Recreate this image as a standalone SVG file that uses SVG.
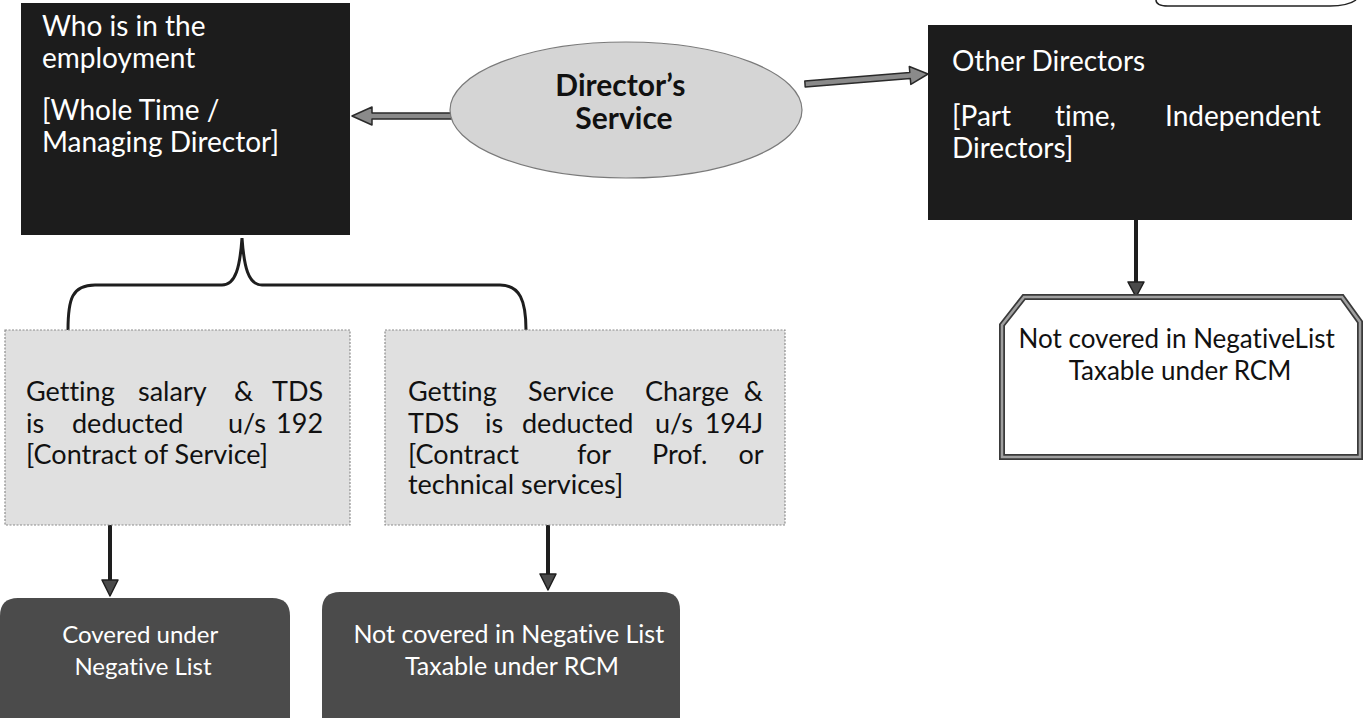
<svg xmlns="http://www.w3.org/2000/svg" width="1363" height="718" viewBox="0 0 1363 718">
  <defs>
    <style>
      text { font-variant-ligatures: none; }
      .dark { fill: #1c1c1c; }
      .light { fill: #e0e0e0; stroke: #8c8c8c; stroke-width: 1.2; stroke-dasharray: 2 1.5; }
      .slate { fill: #4b4b4b; }
      .wt { font-family: Lato, "Liberation Sans", sans-serif; fill: #ffffff; }
      .bk { font-family: Lato, "Liberation Sans", sans-serif; fill: #111111; }
      .big { font-size: 28px; }
      .mid { font-size: 27px; }
      .sm { font-size: 24px; }
      .ttl { font-size: 30px; font-weight: bold; }
      .wire { stroke: #1e1e1e; stroke-width: 4; fill: none; }
      .head { fill: #4a4a4a; stroke: #1e1e1e; stroke-width: 1.5; stroke-linejoin: round; }
      .block { fill: #8a8a8a; stroke: #2a2a2a; stroke-width: 1.5; stroke-linejoin: round; }
    </style>
  </defs>

  <rect width="1363" height="718" fill="#ffffff"/>

  <!-- partly visible rounded box at the top right -->
  <path d="M1156,0 C1156,4 1160,6 1168,6 L1330,6 C1345,6 1352,3 1356,0" fill="none" stroke="#222" stroke-width="1.5"/>

  <!-- connectors -->
  <g id="connectors">
    <polygon class="block" points="452,113 372,113 372,107 352,116 372,125 372,119 452,119"/>
    <polygon class="block" points="804.8,81.0 909.8,72.5 909.3,66.5 928,74 910.8,84.4 910.3,78.5 805.2,87.0"/>
    <path d="M68,330 C68,299 72,285 95,285 L222,285 C236,285 240,266 242,238 C244,266 248,285 262,285 L500,285 C520,285 526,301 526,330" fill="none" stroke="#1e1e1e" stroke-width="3"/>
    <line class="wire" x1="1136" y1="220" x2="1136" y2="284"/>
    <polygon class="head" points="1128,282 1144,282 1136,297"/>
    <line class="wire" x1="110" y1="525" x2="110" y2="582"/>
    <polygon class="head" points="102,580 118,580 110,596"/>
    <line class="wire" x1="548" y1="525" x2="548" y2="576"/>
    <polygon class="head" points="540,574 556,574 548,590"/>
  </g>

  <g id="employed">
    <rect class="dark" x="21" y="3" width="329" height="232"/>
    <text class="wt big">
      <tspan x="42" y="36">Who is in the</tspan>
      <tspan x="42" y="68">employment</tspan>
      <tspan x="42" y="120">[Whole Time /</tspan>
      <tspan x="42" y="152">Managing Director]</tspan>
    </text>
  </g>

  <g id="service">
    <ellipse cx="626" cy="110" rx="176" ry="68" fill="#d5d5d5" stroke="#7a7a7a" stroke-width="1.2"/>
    <text class="bk ttl" text-anchor="middle">
      <tspan x="624" y="96">Director’s</tspan>
      <tspan x="624" y="129">Service</tspan>
    </text>
  </g>

  <g id="other">
    <rect class="dark" x="928" y="25" width="424" height="195"/>
    <text class="wt big">
      <tspan x="952" y="71">Other Directors</tspan>
      <tspan x="952" y="126">[Part</tspan>
      <tspan x="1089" y="126" text-anchor="middle">time,</tspan>
      <tspan x="1328" y="126" text-anchor="end">Independent</tspan>
      <tspan x="952" y="158">Directors]</tspan>
    </text>
  </g>

  <g id="other-result">
    <path d="M1002,325 L1024,297 L1342,297 L1360,322 L1360,457 L1002,457 Z" fill="#ffffff" stroke="#3a3a3a" stroke-width="6" stroke-linejoin="miter"/>
    <path d="M1002,325 L1024,297 L1342,297 L1360,322 L1360,457 L1002,457 Z" fill="none" stroke="#a0a0a0" stroke-width="2.5"/>
    <text class="bk" style="font-size:26px" text-anchor="middle">
      <tspan x="1180" y="348">Not covered in NegativeList</tspan>
      <tspan x="1180" y="380">Taxable under RCM</tspan>
    </text>
  </g>

  <g id="salary">
    <rect class="light" x="5" y="330" width="345" height="195"/>
    <text class="bk mid">
      <tspan x="26" y="401">Getting</tspan><tspan x="138" y="401">salary</tspan><tspan x="234" y="401">&amp;</tspan><tspan x="330" y="401" text-anchor="end">TDS</tspan>
      <tspan x="26" y="433">is</tspan><tspan x="72" y="433">deducted</tspan><tspan x="228" y="433">u/s</tspan><tspan x="330" y="433" text-anchor="end">192</tspan>
      <tspan x="26" y="464">[Contract of Service]</tspan>
    </text>
  </g>

  <g id="fees">
    <rect class="light" x="385" y="330" width="400" height="195"/>
    <text class="bk mid">
      <tspan x="408" y="401">Getting</tspan><tspan x="528" y="401">Service</tspan><tspan x="645" y="401">Charge</tspan><tspan x="770" y="401" text-anchor="end">&amp;</tspan>
      <tspan x="408" y="433">TDS</tspan><tspan x="485" y="433">is</tspan><tspan x="522" y="433">deducted</tspan><tspan x="655" y="433">u/s</tspan><tspan x="770" y="433" text-anchor="end">194J</tspan>
      <tspan x="408" y="464">[Contract</tspan><tspan x="577" y="464">for</tspan><tspan x="652" y="464">Prof.</tspan><tspan x="770" y="464" text-anchor="end">or</tspan>
      <tspan x="408" y="494">technical services]</tspan>
    </text>
  </g>

  <g id="covered">
    <path class="slate" d="M0,616 Q0,598 18,598 L272,598 Q290,598 290,616 L290,718 L0,718 Z"/>
    <text class="wt sm" text-anchor="middle">
      <tspan x="143" y="643">Covered under</tspan>
      <tspan x="143" y="675">Negative List</tspan>
    </text>
  </g>

  <g id="not-covered">
    <path class="slate" d="M322,610 Q322,592 340,592 L662,592 Q680,592 680,610 L680,718 L322,718 Z"/>
    <text class="wt" style="font-size:25px" text-anchor="middle">
      <tspan x="512" y="643">Not covered in Negative List</tspan>
      <tspan x="512" y="675">Taxable under RCM</tspan>
    </text>
  </g>
</svg>
